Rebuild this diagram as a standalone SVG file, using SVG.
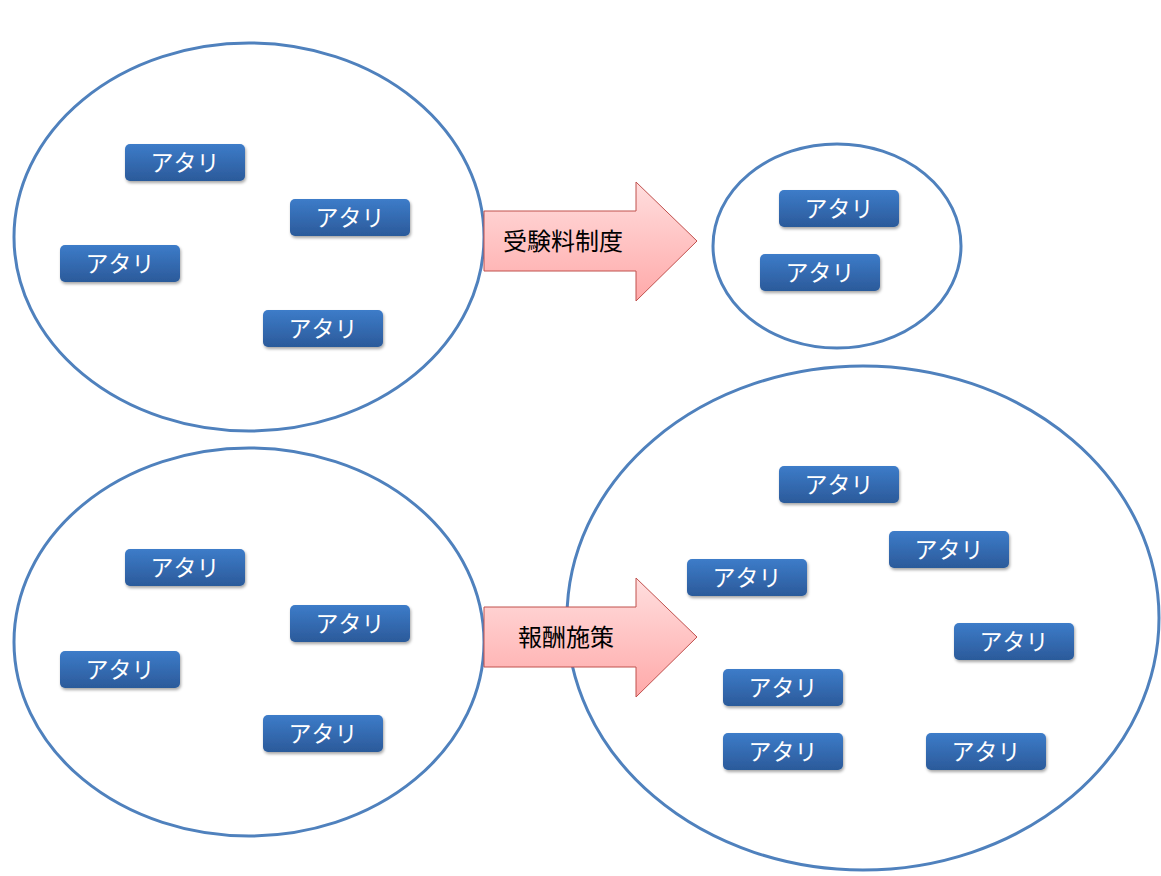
<svg xmlns="http://www.w3.org/2000/svg" width="1161" height="876" viewBox="0 0 1161 876">
<defs>
<linearGradient id="bg" x1="0" y1="0" x2="0" y2="1"><stop offset="0" stop-color="#3d7cc9"/><stop offset="1" stop-color="#2b5a9a"/></linearGradient>
<linearGradient id="ag" x1="0" y1="0" x2="0" y2="1"><stop offset="0" stop-color="#ffdede"/><stop offset="1" stop-color="#ffa9a9"/></linearGradient>
<filter id="sh" x="-10%" y="-20%" width="130%" height="160%"><feDropShadow dx="1" dy="2" stdDeviation="1.5" flood-color="#000" flood-opacity="0.35"/></filter>
<g id="box"><rect width="120" height="37" rx="5" fill="url(#bg)" filter="url(#sh)"/><text x="60" y="27" class="bt">アタリ</text></g>
</defs>
<style>
.el{fill:none;stroke:#4f81bd;stroke-width:3}
.bt{font-family:"Noto Sans CJK JP",sans-serif;font-size:23px;fill:#fff;text-anchor:middle}
.ar{fill:url(#ag);stroke:#c0504d;stroke-width:1}
.at{font-family:"Noto Sans CJK JP",sans-serif;font-size:24px;fill:#000}
</style>
<rect width="1161" height="876" fill="#fff"/>
<g id="ellipses">
<ellipse id="e1" class="el" cx="249" cy="237" rx="235" ry="194"/>
<ellipse id="e2" class="el" cx="837" cy="246" rx="124" ry="102"/>
<ellipse id="e3" class="el" cx="249" cy="642" rx="235" ry="194"/>
<ellipse id="e4" class="el" cx="863" cy="618" rx="296" ry="252"/>
</g>
<g id="connectors">
<g id="arrow1"><path class="ar" d="M484,211H636V182L697,241L636,301V271H484Z"/><text class="at" x="503" y="250">受験料制度</text></g>
<g id="arrow2"><path class="ar" d="M484,607H636V578L697,637L636,697V667H484Z"/><text class="at" x="518" y="646">報酬施策</text></g>
</g>
<g id="n1"><use href="#box" x="125" y="144"/></g>
<g id="n2"><use href="#box" x="290" y="199"/></g>
<g id="n3"><use href="#box" x="60" y="245"/></g>
<g id="n4"><use href="#box" x="263" y="310"/></g>
<g id="n5"><use href="#box" x="779" y="190"/></g>
<g id="n6"><use href="#box" x="760" y="254"/></g>
<g id="n7"><use href="#box" x="125" y="549"/></g>
<g id="n8"><use href="#box" x="290" y="605"/></g>
<g id="n9"><use href="#box" x="60" y="651"/></g>
<g id="n10"><use href="#box" x="263" y="715"/></g>
<g id="n11"><use href="#box" x="779" y="466"/></g>
<g id="n12"><use href="#box" x="889" y="531"/></g>
<g id="n13"><use href="#box" x="687" y="559"/></g>
<g id="n14"><use href="#box" x="954" y="623"/></g>
<g id="n15"><use href="#box" x="723" y="669"/></g>
<g id="n16"><use href="#box" x="723" y="733"/></g>
<g id="n17"><use href="#box" x="926" y="733"/></g>
</svg>
